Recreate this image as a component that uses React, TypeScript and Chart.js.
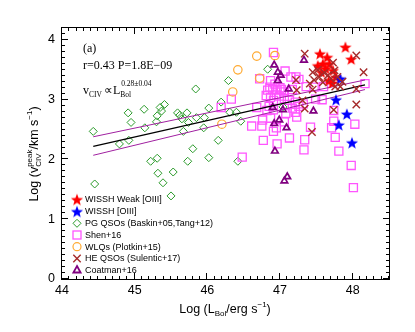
import React, { useEffect, useRef } from 'react';
import { Chart, registerables } from 'chart.js';
Chart.register(...registerables);

type P = [number, number];

const wisshWeak: P[] = [
  [47.52, 3.57], [47.55, 3.77], [47.57, 3.46], [47.59, 3.60], [47.63, 3.52], [47.65, 3.71],
  [47.67, 3.32], [47.68, 3.60], [47.72, 3.28], [47.73, 3.49], [47.77, 3.38], [47.90, 3.88], [47.98, 3.68],
];
const wissh: P[] = [[47.77, 3.00], [47.81, 2.58], [47.83, 3.35], [47.92, 2.76], [47.99, 2.28]];
const pgQsos: P[] = [
  [44.43, 2.47], [44.45, 1.59], [44.79, 2.26], [44.91, 2.78], [44.92, 2.32], [44.95, 2.62], [45.13, 2.84],
  [45.14, 2.53], [45.22, 1.97], [45.30, 2.63], [45.31, 2.73], [45.31, 2.02], [45.32, 1.77], [45.35, 2.87],
  [45.37, 2.81], [45.39, 1.61], [45.41, 2.92], [45.50, 1.39], [45.53, 1.79], [45.59, 2.78], [45.62, 2.74],
  [45.65, 2.68], [45.67, 2.47], [45.72, 2.78], [45.73, 1.97], [45.74, 2.62], [45.80, 2.18], [45.84, 3.18],
  [45.85, 2.70], [45.95, 2.53], [45.96, 2.70], [46.02, 2.86], [46.02, 2.03], [46.15, 2.32], [46.19, 2.96],
  [46.29, 3.32], [46.31, 2.79], [46.40, 2.79], [46.42, 1.97], [46.46, 2.64], [46.83, 3.51], [47.04, 2.88],
];
const shen16: P[] = [
  [46.19, 2.87], [46.33, 3.01], [46.48, 2.04], [46.61, 2.56], [46.68, 2.87], [46.72, 3.35], [46.75, 2.56],
  [46.76, 2.66], [46.77, 2.32], [46.82, 2.82], [46.83, 3.16], [46.87, 2.69], [46.87, 3.32], [46.87, 3.04],
  [46.90, 3.17], [46.91, 3.79], [46.91, 2.47], [46.91, 2.99], [46.91, 2.83], [46.95, 2.53], [46.96, 2.26],
  [46.96, 3.16], [46.99, 3.06], [47.02, 3.17], [47.05, 3.13], [47.06, 3.02], [47.06, 2.63], [47.07, 3.48],
  [47.08, 2.77], [47.13, 2.99], [47.13, 2.36], [47.15, 3.38], [47.17, 2.86], [47.17, 3.17], [47.21, 2.79],
  [47.21, 2.96], [47.22, 3.38], [47.23, 2.71], [47.26, 3.34], [47.26, 2.89], [47.32, 2.93], [47.33, 2.16],
  [47.34, 2.33], [47.36, 3.22], [47.42, 2.54], [47.47, 3.21], [47.49, 3.01], [47.58, 3.00], [47.60, 3.22],
  [47.71, 2.53], [47.74, 2.82], [47.74, 2.64], [47.76, 2.37], [47.81, 2.14], [47.98, 1.90], [48.01, 1.53],
  [48.03, 2.59], [48.17, 3.27], [46.86, 3.21], [46.81, 3.07], [46.95, 3.08], [47.00, 3.20], [46.85, 2.89],
  [47.10, 2.92], [46.93, 3.26],
];
const wlqs: P[] = [[46.20, 2.59], [46.35, 3.13], [46.42, 3.50], [46.68, 3.73], [46.72, 3.36], [46.93, 3.74]];
const heQsos: P[] = [
  [47.22, 3.33], [47.23, 3.16], [47.31, 2.99], [47.34, 2.85], [47.34, 3.77], [47.41, 3.27], [47.44, 2.46],
  [47.45, 3.46], [47.45, 3.17], [47.47, 3.33], [47.52, 3.50], [47.54, 3.38], [47.59, 3.29], [47.61, 3.45],
  [47.66, 3.41], [47.70, 3.35], [47.73, 3.62], [47.74, 2.83], [47.75, 3.49], [47.76, 3.22], [47.79, 3.38],
  [47.83, 3.22], [47.86, 3.30], [48.05, 3.74], [48.05, 3.18], [48.05, 2.92], [48.15, 3.46],
];
const coatman16: P[] = [
  [46.90, 2.87], [46.92, 3.58], [46.92, 2.60], [46.93, 2.14], [46.97, 3.46], [46.97, 3.32], [46.99, 2.66],
  [47.01, 3.41], [47.04, 2.83], [47.06, 1.64], [47.09, 2.53], [47.10, 1.71], [47.12, 3.18], [47.33, 3.66],
  [47.46, 2.81],
];
const fitX = [44.43, 48.17];
const fitY = [2.22, 3.25];
const fitUpperY = [2.38, 3.33];
const fitLowerY = [2.07, 3.17];

const xTicks = [44, 45, 46, 47, 48];
const yTicks = [0, 1, 2, 3, 4];

const C = {
  red: '#ff0000', blue: '#0000ff', green: '#2a9a2a', magenta: '#ff55ff', orange: '#ffaa33',
  brown: '#a52a2a', purple: '#800080', band: '#a020a0',
};

const SANS = '"Liberation Sans", Arial, Helvetica, sans-serif';
const SERIF = '"Liberation Serif", "Times New Roman", serif';

function makeStar(color: string, size: number, R: number) {
  const c = document.createElement('canvas');
  c.width = size; c.height = size;
  const g = c.getContext('2d')!;
  const cx = size / 2, cy = size / 2 + R * 0.1;
  const r = R * 0.42;
  g.beginPath();
  for (let i = 0; i < 10; i++) {
    const ang = -Math.PI / 2 + (i * Math.PI) / 5;
    const rad = i % 2 === 0 ? R : r;
    g.lineTo(cx + rad * Math.cos(ang), cy + rad * Math.sin(ang));
  }
  g.closePath();
  g.fillStyle = color;
  g.fill();
  return c;
}

const toXY = (arr: P[]) => arr.map(([x, y]) => ({ x, y }));
const lineXY = (xs: number[], ys: number[]) => xs.map((x, i) => ({ x, y: ys[i] }));

export default function App() {
  const ref = useRef<HTMLCanvasElement | null>(null);

  useEffect(() => {
    const canvas = ref.current!;
    const redStar = makeStar(C.red, 14, 6.4);
    const blueStar = makeStar(C.blue, 14, 6.4);

    const drawRich = (ctx: CanvasRenderingContext2D, parts: { t: string; f: string; dy: number; stack?: { t: string; dy: number }[] }[], x0: number, y0: number, center: boolean) => {
      const widths = parts.map((p) => {
        ctx.font = p.f;
        if (p.stack) return Math.max(...p.stack.map((s) => ctx.measureText(s.t).width));
        return ctx.measureText(p.t).width;
      });
      const total = widths.reduce((a, b) => a + b, 0);
      let x = center ? x0 - total / 2 : x0;
      parts.forEach((p, i) => {
        ctx.font = p.f;
        if (p.stack) {
          p.stack.forEach((s) => ctx.fillText(s.t, x, y0 + s.dy));
        } else {
          ctx.fillText(p.t, x, y0 + p.dy);
        }
        x += widths[i];
      });
    };

    const decor = {
      id: 'decor',
      afterDraw(chart: any) {
        const ctx: CanvasRenderingContext2D = chart.ctx;
        const a = chart.chartArea;
        const xs = chart.scales.x, ys = chart.scales.y;
        ctx.save();
        ctx.strokeStyle = '#000';
        ctx.lineWidth = 1;
        ctx.strokeRect(Math.round(a.left) - 0.5, Math.round(a.top) - 0.5, Math.round(a.right - a.left) + 1, Math.round(a.bottom - a.top) + 1);
        ctx.beginPath();
        for (let i = 0; i <= 45; i++) {
          const v = 44 + i * 0.1;
          const px = Math.round(xs.getPixelForValue(v)) - 0.5;
          const len = i % 10 === 0 ? 6 : 3;
          ctx.moveTo(px, a.bottom); ctx.lineTo(px, a.bottom - len);
          ctx.moveTo(px, a.top); ctx.lineTo(px, a.top + len);
        }
        for (let i = 0; i <= 42; i++) {
          const v = i * 0.1;
          const py = Math.round(ys.getPixelForValue(v)) - 0.5;
          const len = i % 10 === 0 ? 6 : 3;
          ctx.moveTo(a.left, py); ctx.lineTo(a.left + len, py);
          ctx.moveTo(a.right, py); ctx.lineTo(a.right - len, py);
        }
        ctx.stroke();

        ctx.fillStyle = '#000';
        ctx.textBaseline = 'alphabetic';
        ctx.textAlign = 'left';
        const big = `12.5px ${SANS}`, small = `8px ${SANS}`;
        drawRich(ctx, [
          { t: 'Log (L', f: big, dy: 0 },
          { t: 'Bol', f: small, dy: 3 },
          { t: '/erg s', f: big, dy: 0 },
          { t: '\u22121', f: small, dy: -6 },
          { t: ')', f: big, dy: 0 },
        ], 225, 313, true);
        ctx.save();
        ctx.translate(38, 154);
        ctx.rotate(-Math.PI / 2);
        drawRich(ctx, [
          { t: 'Log (v', f: big, dy: 0 },
          { t: '', f: small, dy: 0, stack: [{ t: 'peak', dy: -6 }, { t: 'CIV', dy: 3 }] },
          { t: '/km s', f: big, dy: 0 },
          { t: '\u22121', f: small, dy: -6 },
          { t: ')', f: big, dy: 0 },
        ], 0, 0, true);
        ctx.restore();

        ctx.font = `12px ${SERIF}`;
        ctx.fillText('(a)', 83, 52);
        ctx.fillText('r=0.43 P=1.8E\u221209', 83, 69);
        const mainS = `12px ${SERIF}`, subS = `7.5px ${SERIF}`;
        let x = 83;
        ctx.font = mainS; ctx.fillText('v', x, 94); x += ctx.measureText('v').width;
        ctx.font = subS; ctx.fillText('CIV', x, 97); x += ctx.measureText('CIV').width + 2;
        ctx.font = mainS; ctx.fillText('\u221D', x, 94); x += ctx.measureText('\u221D').width;
        ctx.fillText('L', x, 94); x += ctx.measureText('L').width;
        ctx.font = subS; ctx.fillText('Bol', x, 97);
        ctx.fillText('0.28\u00B10.04', x + 1, 86);

        const lx = 77, tx = 85;
        const rows: { label: string; draw: (cx: number, cy: number) => void }[] = [
          { label: 'WISSH Weak [OIII]', draw: (cx, cy) => ctx.drawImage(redStar, cx - 7, cy - 7) },
          { label: 'WISSH [OIII]', draw: (cx, cy) => ctx.drawImage(blueStar, cx - 7, cy - 7) },
          { label: 'PG QSOs (Baskin+05,Tang+12)', draw: (cx, cy) => {
            ctx.strokeStyle = C.green; ctx.lineWidth = 1; ctx.beginPath();
            ctx.moveTo(cx, cy - 4); ctx.lineTo(cx + 4, cy); ctx.lineTo(cx, cy + 4); ctx.lineTo(cx - 4, cy); ctx.closePath(); ctx.stroke();
          } },
          { label: 'Shen+16', draw: (cx, cy) => {
            ctx.strokeStyle = C.magenta; ctx.lineWidth = 1.3; ctx.strokeRect(cx - 4, cy - 4, 8, 8);
          } },
          { label: 'WLQs (Plotkin+15)', draw: (cx, cy) => {
            ctx.strokeStyle = C.orange; ctx.lineWidth = 1.2; ctx.beginPath(); ctx.arc(cx, cy, 4, 0, Math.PI * 2); ctx.stroke();
          } },
          { label: 'HE QSOs (Sulentic+17)', draw: (cx, cy) => {
            ctx.strokeStyle = C.brown; ctx.lineWidth = 1.4; ctx.beginPath();
            ctx.moveTo(cx - 3.7, cy - 3.7); ctx.lineTo(cx + 3.7, cy + 3.7); ctx.moveTo(cx + 3.7, cy - 3.7); ctx.lineTo(cx - 3.7, cy + 3.7); ctx.stroke();
          } },
          { label: 'Coatman+16', draw: (cx, cy) => {
            ctx.strokeStyle = C.purple; ctx.lineWidth = 1.8; ctx.beginPath();
            ctx.moveTo(cx, cy - 4); ctx.lineTo(cx + 3.6, cy + 2.5); ctx.lineTo(cx - 3.6, cy + 2.5); ctx.closePath(); ctx.stroke();
          } },
        ];
        const ry = [199.5, 211.5, 223.3, 235, 246.7, 258.5, 270];
        ctx.textBaseline = 'middle';
        rows.forEach((r, i) => {
          r.draw(lx, ry[i]);
          ctx.fillStyle = '#000';
          ctx.font = `9px ${SANS}`;
          ctx.fillText(r.label, tx, ry[i] + 0.5);
        });
        ctx.restore();
      },
    };

    const chart = new Chart(canvas, {
      type: 'scatter',
      data: {
        datasets: [
          { label: 'HE QSOs (Sulentic+17)', data: toXY(heQsos), pointStyle: 'crossRot', pointRadius: 5.2, borderColor: C.brown, backgroundColor: C.brown, borderWidth: 1.4, pointBorderWidth: 1.4, order: 1 } as any,
          { label: 'WISSH [OIII]', data: toXY(wissh), pointStyle: blueStar, pointRadius: 7, order: 2 } as any,
          { label: 'WISSH Weak [OIII]', data: toXY(wisshWeak), pointStyle: redStar, pointRadius: 7, order: 3 } as any,
          { label: 'fit', data: lineXY(fitX, fitY), showLine: true, pointRadius: 0, borderColor: '#000', borderWidth: 1.3, order: 4 } as any,
          { label: 'upper', data: lineXY(fitX, fitUpperY), showLine: true, pointRadius: 0, borderColor: C.band, borderWidth: 1, order: 4 } as any,
          { label: 'lower', data: lineXY(fitX, fitLowerY), showLine: true, pointRadius: 0, borderColor: C.band, borderWidth: 1, order: 4 } as any,
          { label: 'Coatman+16', data: toXY(coatman16), pointStyle: 'triangle', pointRadius: 3.8, borderColor: C.purple, backgroundColor: 'rgba(0,0,0,0)', borderWidth: 1.7, pointBorderWidth: 1.7, order: 5 } as any,
          { label: 'WLQs (Plotkin+15)', data: toXY(wlqs), pointStyle: 'circle', pointRadius: 4.2, borderColor: C.orange, backgroundColor: 'rgba(0,0,0,0)', borderWidth: 1.2, pointBorderWidth: 1.2, order: 6 } as any,
          { label: 'Shen+16', data: toXY(shen16), pointStyle: 'rect', pointRadius: 5.7, borderColor: C.magenta, backgroundColor: 'rgba(0,0,0,0)', borderWidth: 1.3, pointBorderWidth: 1.3, order: 7 } as any,
          { label: 'PG QSOs (Baskin+05,Tang+12)', data: toXY(pgQsos), pointStyle: 'rectRot', pointRadius: 4, borderColor: C.green, backgroundColor: 'rgba(0,0,0,0)', borderWidth: 1, pointBorderWidth: 1, order: 8 } as any,
        ],
      },
      options: {
        responsive: false,
        animation: false,
        devicePixelRatio: 1,
        events: [],
        layout: { padding: { left: 0, top: 28, right: 26, bottom: 0 } },
        plugins: { legend: { display: false }, tooltip: { enabled: false } },
        scales: {
          x: {
            type: 'linear', min: 44, max: 48.5,
            afterFit: (s: any) => { s.height = 53; },
            afterBuildTicks: (s: any) => { s.ticks = xTicks.map((v) => ({ value: v })); },
            grid: { display: false, drawTicks: false },
            border: { display: false },
            ticks: { padding: 4, color: '#000', font: { family: SANS, size: 12.5 }, maxRotation: 0, autoSkip: false },
          },
          y: {
            type: 'linear', min: 0, max: 4.2,
            afterFit: (s: any) => { s.width = 62; },
            afterBuildTicks: (s: any) => { s.ticks = yTicks.map((v) => ({ value: v })); },
            grid: { display: false, drawTicks: false },
            border: { display: false },
            ticks: { padding: 7, color: '#000', font: { family: SANS, size: 12.5 }, autoSkip: false },
          },
        },
      } as any,
      plugins: [decor],
    });
    return () => chart.destroy();
  }, []);

  return (
    <div style={{ position: 'fixed', left: 0, top: 0, width: 415, height: 332, background: '#fff' }}>
      <canvas ref={ref} width={415} height={332} style={{ display: 'block', width: 415, height: 332 }} />
    </div>
  );
}
